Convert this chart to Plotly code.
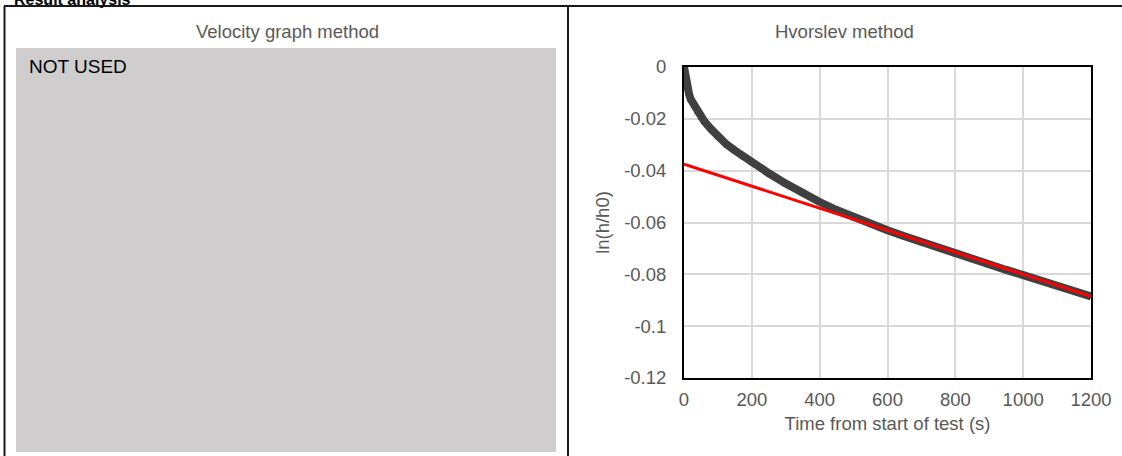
import plotly.graph_objects as go

W, H = 1122, 456

# Hvorslev data
time_s = [0, 3, 6, 10, 15, 20, 30, 40, 50, 60, 80, 100, 125, 150, 175, 200,
          250, 300, 350, 400, 450, 500, 550, 600, 650, 700, 750, 800, 850,
          900, 950, 1000, 1050, 1100, 1150, 1200]
ln_h_h0 = [0, -0.003, -0.005, -0.008, -0.0105, -0.0125, -0.0150, -0.0172,
           -0.0192, -0.0210, -0.0240, -0.0268, -0.0298, -0.0322, -0.0346,
           -0.0368, -0.0410, -0.0450, -0.0487, -0.0521, -0.0552, -0.0580,
           -0.0606, -0.0630, -0.0653, -0.0676, -0.0698, -0.0720, -0.0741,
           -0.0762, -0.0783, -0.0803, -0.0824, -0.0844, -0.0864, -0.0885]
fit_t = [0, 1200]
fit_v = [-0.0375, -0.0885]

x_ticks = [0, 200, 400, 600, 800, 1000, 1200]
y_ticks = [0, -0.02, -0.04, -0.06, -0.08, -0.1, -0.12]
y_tick_text = ["0", "-0.02", "-0.04", "-0.06", "-0.08", "-0.1", "-0.12"]

def px(x):
    return x / W

def py(y):
    return 1 - y / H

FONT = "Liberation Sans, Arial, sans-serif"
GREY_TXT = "#595959"

fig = go.Figure()
fig.add_trace(go.Scatter(x=time_s, y=ln_h_h0, mode="lines+markers",
                         line=dict(color="#404040", width=8),
                         marker=dict(symbol="x", size=6, color="#404040"),
                         showlegend=False, hoverinfo="skip"))
fig.add_trace(go.Scatter(x=fit_t, y=fit_v, mode="lines",
                         line=dict(color="#ff0000", width=3),
                         showlegend=False, hoverinfo="skip"))

fig.update_layout(
    width=W, height=H,
    margin=dict(l=0, r=0, t=0, b=0, autoexpand=False),
    paper_bgcolor="white", plot_bgcolor="white",
    font=dict(family=FONT, size=18, color=GREY_TXT),
    xaxis=dict(domain=[px(684), px(1091)], range=[0, 1200],
               tickvals=x_ticks, ticks="", showgrid=True,
               gridcolor="#d9d9d9", gridwidth=1.5, zeroline=False,
               showline=True, linecolor="black", linewidth=2, mirror=True,
               automargin=False,
               tickfont=dict(size=18.5, color=GREY_TXT),
               ticklabelstandoff=4,
               title=dict(text="Time from start of test (s)",
                          font=dict(size=18.5, color=GREY_TXT), standoff=8)),
    yaxis=dict(domain=[py(378), py(67)], range=[-0.12, 0],
               tickvals=y_ticks, ticktext=y_tick_text, ticks="",
               showgrid=True, gridcolor="#d9d9d9", gridwidth=1.5,
               zeroline=False, showline=True, linecolor="black",
               linewidth=2, mirror=True, automargin=False,
               tickfont=dict(size=18.5, color=GREY_TXT),
               ticklabelstandoff=12,
               title=dict(text="ln(h/h0)",
                          font=dict(size=18.5, color=GREY_TXT), standoff=10)),
)

shapes = [
    # grey "not used" panel
    dict(type="rect", xref="paper", yref="paper", x0=px(16), x1=px(556),
         y0=py(452), y1=py(48), fillcolor="#cfcdce", line=dict(width=0),
         layer="below"),
    # frame lines
    dict(type="line", xref="paper", yref="paper", x0=px(4), x1=1,
         y0=py(6), y1=py(6), line=dict(color="#1a1a1a", width=2)),
    dict(type="line", xref="paper", yref="paper", x0=px(4.5), x1=px(4.5),
         y0=py(6), y1=0, line=dict(color="#1a1a1a", width=2)),
    dict(type="line", xref="paper", yref="paper", x0=px(568), x1=px(568),
         y0=py(6), y1=0, line=dict(color="#1a1a1a", width=2)),
]
fig.update_layout(shapes=shapes)

annotations = [
    dict(text="Velocity graph method", x=px(287), y=py(31), xref="paper",
         yref="paper", xanchor="center", yanchor="middle", showarrow=False,
         font=dict(size=18.5, color=GREY_TXT)),
    dict(text="Hvorslev method", x=px(844), y=py(31), xref="paper",
         yref="paper", xanchor="center", yanchor="middle", showarrow=False,
         font=dict(size=18.5, color=GREY_TXT)),
    dict(text="NOT USED", x=px(27), y=py(67), xref="paper", yref="paper",
         xanchor="left", yanchor="middle", showarrow=False,
         font=dict(size=19, color="black")),
    dict(text="<b>Result analysis</b>", x=px(12), y=py(10), xref="paper",
         yref="paper", xanchor="left", yanchor="bottom", showarrow=False,
         font=dict(size=16, color="black")),
]
fig.update_layout(annotations=annotations)

fig.write_html(
    "out.html",
    config={"displayModeBar": False},
    post_script="document.body.style.margin='0';"
                "document.body.style.overflow='hidden';",
)
